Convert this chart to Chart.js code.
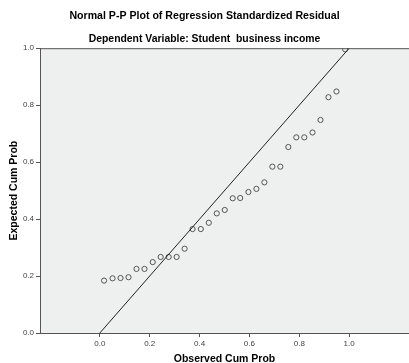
<!DOCTYPE html>
<html>
<head>
<meta charset="utf-8">
<script src="https://cdn.jsdelivr.net/npm/chart.js@4.4.1/dist/chart.umd.min.js"></script>
<style>
  html, body { margin: 0; padding: 0; background: #fff; }
  #wrap { width: 409px; height: 363px; }
</style>
</head>
<body>
<div id="wrap"><canvas id="ppChart" width="409" height="363"></canvas></div>
<script>
// observed vs expected cumulative probability
const obsCum = [0.017, 0.051, 0.083, 0.115, 0.147, 0.179, 0.212, 0.244, 0.276, 0.308, 0.340,
  0.372, 0.405, 0.437, 0.469, 0.501, 0.533, 0.563, 0.596, 0.628, 0.660, 0.692,
  0.724, 0.756, 0.788, 0.820, 0.853, 0.885, 0.917, 0.949, 0.984];
const expCum = [0.184, 0.192, 0.193, 0.196, 0.225, 0.225, 0.249, 0.267, 0.267, 0.267, 0.296,
  0.365, 0.365, 0.387, 0.420, 0.432, 0.473, 0.474, 0.495, 0.506, 0.529, 0.584,
  0.584, 0.653, 0.687, 0.687, 0.704, 0.748, 0.828, 0.848, 0.996];
const refLine = [[0, 0], [1, 1]];
const tickVals = [0, 0.2, 0.4, 0.6, 0.8, 1.0];

const chartTitle = 'Normal P-P Plot of Regression Standardized Residual';
const chartSubtitle = 'Dependent Variable: Student  business income';
const xLabel = 'Observed Cum Prob';
const yLabel = 'Expected Cum Prob';

const FONT = "'Liberation Sans', Arial, sans-serif";

// grey plot box like SPSS
const plotBox = {
  id: 'plotBox',
  beforeDraw(chart) {
    const { ctx, chartArea: a } = chart;
    ctx.save();
    ctx.fillStyle = '#eef0ef';
    ctx.fillRect(a.left, a.top, a.right - a.left, a.bottom - a.top);
    ctx.strokeStyle = '#555';
    ctx.lineWidth = 1;
    ctx.beginPath();
    ctx.moveTo(a.left, a.top + 0.5);
    ctx.lineTo(a.right, a.top + 0.5);
    ctx.stroke();
    ctx.restore();
  }
};

const ctx = document.getElementById('ppChart').getContext('2d');
new Chart(ctx, {
  type: 'scatter',
  data: {
    datasets: [
      {
        type: 'line',
        data: refLine.map(p => ({ x: p[0], y: p[1] })),
        borderColor: '#222',
        borderWidth: 1,
        pointRadius: 0,
        fill: false
      },
      {
        data: obsCum.map((x, i) => ({ x: x, y: expCum[i] })),
        pointStyle: 'circle',
        pointRadius: 2.6,
        borderColor: '#555',
        backgroundColor: 'rgba(0,0,0,0)',
        borderWidth: 1
      }
    ]
  },
  options: {
    responsive: false,
    devicePixelRatio: 1,
    animation: false,
    layout: { padding: 0, autoPadding: false },
    plugins: {
      legend: { display: false },
      tooltip: { enabled: false },
      title: {
        display: true,
        text: chartTitle,
        color: '#000',
        font: { family: FONT, size: 10.6, weight: 'bold' },
        padding: { top: 10, bottom: 4 }
      },
      subtitle: {
        display: true,
        text: chartSubtitle,
        color: '#000',
        font: { family: FONT, size: 10.4, weight: 'bold' },
        padding: { top: 6, bottom: 3 }
      }
    },
    scales: {
      x: {
        type: 'linear',
        min: -0.24,
        max: 1.24,
        afterBuildTicks: s => { s.ticks = tickVals.map(v => ({ value: v })); },
        afterFit: s => { s.height = 30; s.paddingLeft = 0; s.paddingRight = 0; },
        ticks: {
          callback: v => v.toFixed(1),
          color: '#444',
          font: { family: FONT, size: 8 },
          padding: 2,
          maxRotation: 0
        },
        grid: { drawOnChartArea: false, drawTicks: true, tickLength: 4, color: '#555' },
        border: { display: true, color: '#555', width: 1 },
        title: {
          display: true,
          text: xLabel,
          color: '#000',
          font: { family: FONT, size: 10.5, weight: 'bold' },
          padding: { top: 0, bottom: -2 }
        }
      },
      y: {
        type: 'linear',
        min: 0,
        max: 1,
        afterBuildTicks: s => { s.ticks = tickVals.map(v => ({ value: v })); },
        afterFit: s => { s.width = 40; },
        ticks: {
          callback: v => v.toFixed(1),
          color: '#444',
          font: { family: FONT, size: 8 },
          padding: 2
        },
        grid: { drawOnChartArea: false, drawTicks: true, tickLength: 4, color: '#555' },
        border: { display: true, color: '#555', width: 1 },
        title: {
          display: true,
          text: yLabel,
          color: '#000',
          font: { family: FONT, size: 10.5, weight: 'bold' },
          padding: { top: 8, bottom: 0 }
        }
      }
    }
  },
  plugins: [plotBox]
});
</script>
</body>
</html>
